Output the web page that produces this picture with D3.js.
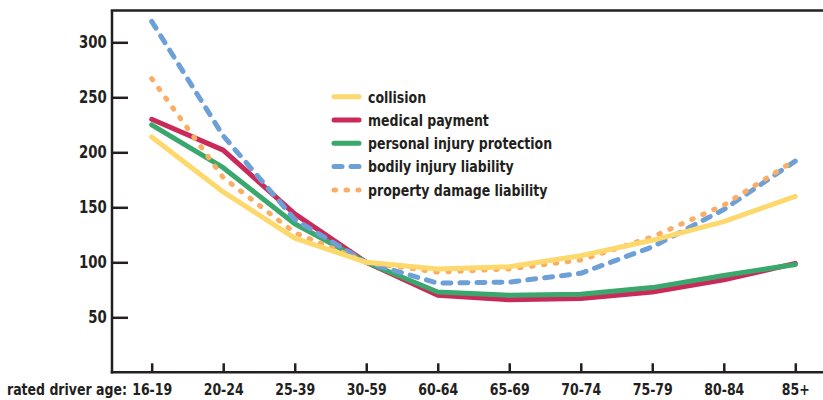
<!DOCTYPE html>
<html>
<head>
<meta charset="utf-8">
<script src="https://cdn.jsdelivr.net/npm/d3@7"></script>
<style>
  html, body { margin: 0; padding: 0; background: #fff; }
  svg { display: block; }
  text { font-family: "DejaVu Sans Condensed", "Liberation Sans", sans-serif; font-weight: bold; fill: #231f20; }
</style>
</head>
<body>
<svg id="chart" width="823" height="400"></svg>
<script>
const categories = ["16-19", "20-24", "25-39", "30-59", "60-64", "65-69", "70-74", "75-79", "80-84", "85+"];
const collision = [214, 164, 122, 100, 94, 96, 106, 120, 137, 160];
const medicalPayment = [230, 202, 144, 100, 70, 66, 67, 73, 84, 99];
const personalInjury = [225, 186, 135, 100, 73, 70, 71, 77, 88, 98];
const bodilyInjury = [319, 215, 139, 100, 81, 82, 90, 114, 148, 192];
const propertyDamage = [267, 177, 127, 100, 91, 94, 102, 123, 152, 193];
const yTicks = [50, 100, 150, 200, 250, 300];
const seriesNames = ["collision", "medical payment", "personal injury protection", "bodily injury liability", "property damage liability"];
const xTitle = "rated driver age:";

const series = [
  { name: seriesNames[1], values: medicalPayment, color: "#c92a5a", dash: null },
  { name: seriesNames[2], values: personalInjury, color: "#3aa76c", dash: null },
  { name: seriesNames[3], values: bodilyInjury, color: "#6ea0d8", dash: "8,9" },
  { name: seriesNames[4], values: propertyDamage, color: "#f9ae63", dash: "1.5,10.5" },
  { name: seriesNames[0], values: collision, color: "#fdd86c", dash: null }
];
const legendOrder = [4, 0, 1, 2, 3];
const SX = 0.87; // horizontal condensing to mimic a condensed bold face

const svg = d3.select("#chart");
const x = d3.scalePoint().domain(categories).range([151.7, 795.3]);
const y = d3.scaleLinear().domain([0, 329]).range([372.3, 10.4]);
const axisX0 = 112, axisRight = 823;

// lines
const line = d3.line().x((d, i) => x(categories[i])).y(d => y(d));
series.forEach(s => {
  svg.append("path")
    .datum(s.values)
    .attr("d", line)
    .attr("fill", "none")
    .attr("stroke", s.color)
    .attr("stroke-width", 5)
    .attr("stroke-linecap", "round")
    .attr("stroke-linejoin", "round")
    .attr("stroke-dasharray", s.dash);
});

// axes
const yAxis = d3.axisLeft(y).tickValues(yTicks).tickSize(-16).tickSizeOuter(0).tickPadding(6);
const gy = svg.append("g").attr("transform", `translate(${axisX0},0)`).call(yAxis);
gy.attr("font-family", null).attr("font-size", null);
gy.select(".domain").remove();
gy.selectAll(".tick line").attr("stroke", "#231f20").attr("stroke-width", 2.5);
gy.selectAll(".tick text").attr("font-size", 17).attr("fill", "#231f20")
  .attr("transform", `scale(${SX},1)`);

const xAxis = d3.axisBottom(x).tickSize(-9).tickSizeOuter(0).tickPadding(11);
const gx = svg.append("g").attr("transform", `translate(0,${y(0)})`).call(xAxis);
gx.attr("font-family", null).attr("font-size", null);
gx.select(".domain").remove();
gx.selectAll(".tick line").attr("stroke", "#231f20").attr("stroke-width", 2.5);
gx.selectAll(".tick text").attr("font-size", 16).attr("fill", "#231f20")
  .attr("transform", `scale(${SX},1)`);

// frame lines
svg.append("line").attr("x1", axisX0).attr("x2", axisX0).attr("y1", y.range()[1]).attr("y2", y(0) + 1.25)
  .attr("stroke", "#231f20").attr("stroke-width", 2.5);
svg.append("line").attr("x1", axisX0 - 1.25).attr("x2", axisRight).attr("y1", y(0)).attr("y2", y(0))
  .attr("stroke", "#231f20").attr("stroke-width", 2.5);
svg.append("line").attr("x1", axisX0 - 1.25).attr("x2", axisRight).attr("y1", y.range()[1]).attr("y2", y.range()[1])
  .attr("stroke", "#231f20").attr("stroke-width", 2.5);

svg.append("text").attr("transform", `translate(7,395) scale(${SX},1)`)
  .attr("font-size", 16).text(xTitle);

// legend
const lg = svg.append("g").attr("transform", "translate(334,96.7)");
legendOrder.forEach((si, i) => {
  const s = series[si];
  const row = lg.append("g").attr("transform", `translate(0,${i * 23.3})`);
  row.append("line").attr("x1", 0).attr("x2", 25).attr("y1", 0).attr("y2", 0)
    .attr("stroke", s.color).attr("stroke-width", 5).attr("stroke-linecap", "round")
    .attr("stroke-dasharray", s.dash);
  row.append("text").attr("transform", `translate(34,5.8) scale(${SX},1)`)
    .attr("font-size", 16).text(s.name);
});
</script>
</body>
</html>
